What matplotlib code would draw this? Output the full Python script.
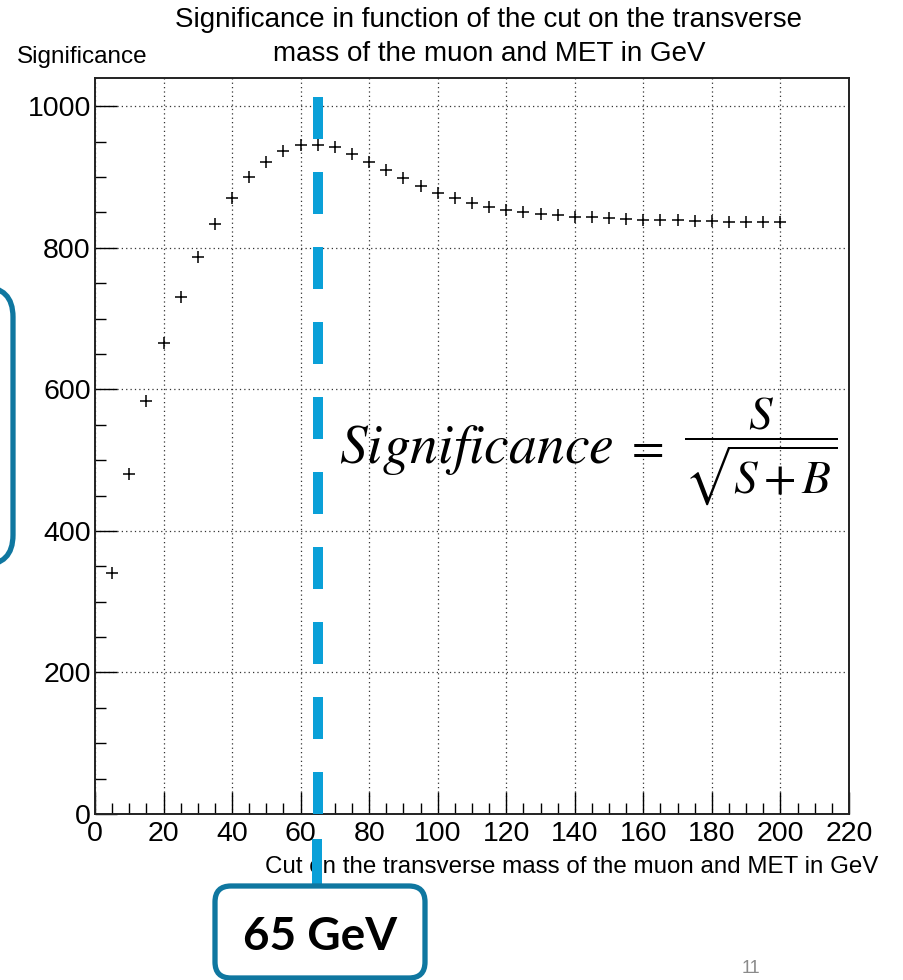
import matplotlib
matplotlib.use('Agg')
import matplotlib.pyplot as plt
from matplotlib.lines import Line2D
from matplotlib.patches import FancyBboxPatch
from matplotlib.transforms import IdentityTransform
from matplotlib.ticker import MultipleLocator

plt.rcParams['font.family'] = ['Liberation Sans', 'DejaVu Sans']
plt.rcParams['mathtext.fontset'] = 'stix'

# cut on mT (GeV) and the resulting significance S/sqrt(S+B)
cut = [5, 10, 15, 20, 25, 30, 35, 40, 45, 50, 55, 60, 65, 70, 75, 80,
       85, 90, 95, 100, 105, 110, 115, 120, 125, 130, 135, 140, 145, 150,
       155, 160, 165, 170, 175, 180, 185, 190, 195, 200]
signif = [341, 480, 583, 665, 731, 787, 833, 870, 900, 922, 937, 945, 946, 942, 933, 922,
          910, 898, 887, 877, 870, 863, 858, 854, 850, 848, 846, 844, 843, 842,
          841, 840, 840, 839, 838, 838, 837, 837, 836, 836]
best_cut = 65

teal = '#0f77a0'
blue = '#0aa0d8'

W, H = 904, 980
fig = plt.figure(figsize=(W / 100, H / 100), dpi=100)
ax = fig.add_axes([95 / W, 166 / H, 754 / W, 736 / H])

ax.plot(cut, signif, linestyle='none', marker='+', markersize=8,
        markeredgewidth=1.1, color='black', zorder=3)

ax.set_xlim(0, 220)
ax.set_ylim(0, 1040)
ax.xaxis.set_major_locator(MultipleLocator(20))
ax.xaxis.set_minor_locator(MultipleLocator(5))
ax.yaxis.set_major_locator(MultipleLocator(200))
ax.yaxis.set_minor_locator(MultipleLocator(50))
ax.tick_params(which='major', direction='in', length=16, width=1, labelsize=20.5)
ax.tick_params(axis='x', which='major', pad=5)
ax.tick_params(axis='y', which='major', pad=3)
ax.tick_params(which='minor', direction='in', length=8, width=1)
ax.grid(True, which='major', color='#333333', linestyle=(0, (1, 2.5)), linewidth=0.9)
for s in ax.spines.values():
    s.set_linewidth(1.4)
    s.set_color('#222222')

# best cut marker
ax.plot([best_cut, best_cut], [1013, 0], color=blue, linewidth=7.2,
        dashes=(4.2, 3.3), dash_capstyle='butt', zorder=4)

fig.text(489 / W, 1 - 20 / H, 'Significance in function of the cut on the transverse',
         ha='center', va='center', fontsize=20)
fig.text(489 / W, 1 - 54 / H, 'mass of the muon and MET in GeV',
         ha='center', va='center', fontsize=20)
fig.text(17 / W, 1 - 57 / H, 'Significance', ha='left', va='center', fontsize=17.5)
fig.text(878 / W, 1 - 867 / H, 'Cut on the transverse mass of the muon and MET in GeV',
         ha='right', va='center', fontsize=17.4)

# S / sqrt(S+B) formula
fig.text(339 / W, 1 - 463 / H, r'$Significance$', ha='left', va='baseline', fontsize=40)
fig.text(644 / W, 1 - 449 / H, r'$=$', ha='center', va='center', fontsize=34)
fig.text(761 / W, 1 - 451 / H, r'$\dfrac{S}{\sqrt{S\,{+}\,B}}$', ha='center', va='center',
         fontsize=34)

# callouts
px = IdentityTransform()
fig.add_artist(Line2D([317, 317], [H - 844, H - 888], color=blue,
                      linewidth=7.2, transform=px, zorder=5))
fig.add_artist(FancyBboxPatch((215, 2), 210, 92, boxstyle='round,pad=0,rounding_size=16',
                              facecolor='white', edgecolor=teal, linewidth=3.8,
                              transform=px, zorder=6))
fig.text(320 / W, 1 - 937 / H, '65 GeV', ha='center', va='center', fontsize=33,
         fontweight='bold', family=['Lato', 'DejaVu Sans'], zorder=7)
fig.add_artist(FancyBboxPatch((-200, H - 565), 213, 278, boxstyle='round,pad=0,rounding_size=30',
                              facecolor='none', edgecolor=teal, linewidth=3.8,
                              transform=px, zorder=6))
fig.text(742 / W, 3 / H, '11', ha='left', va='bottom', fontsize=13, color='#8a8a8a')

fig.savefig('out.png', dpi=100)
